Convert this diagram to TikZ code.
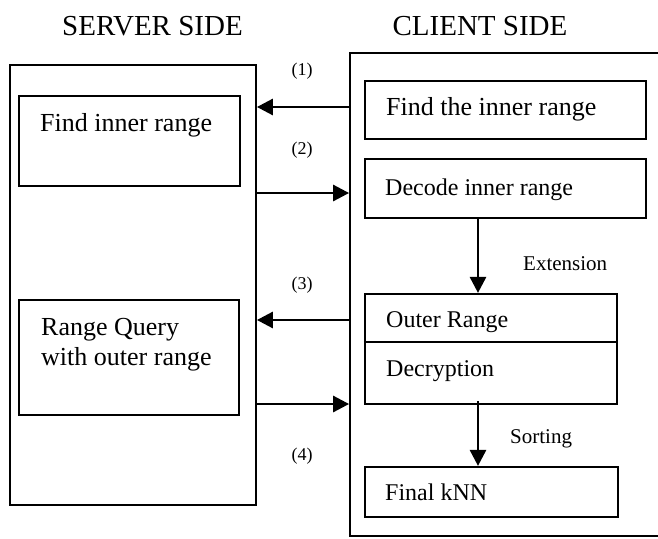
\documentclass[tikz,border=0pt]{standalone}
\usepackage{fontspec}
\setmainfont{Liberation Serif}
\usetikzlibrary{arrows.meta}
\begin{document}
\begin{tikzpicture}[x=1pt,y=-1pt,
  frame/.style={draw,line width=1.8pt,rectangle,inner sep=0pt},
  inbox/.style={draw,line width=2.2pt,rectangle,inner sep=0pt},
  arr/.style={line width=2.8pt,-{Triangle[length=16pt,width=16pt]}},
  lbl/.style={inner sep=0pt,anchor=base west},
  big/.style={font=\fontsize{26}{30}\selectfont},
  mid/.style={font=\fontsize{24}{28}\selectfont},
  small/.style={inner sep=0pt,anchor=base west,font=\fontsize{21}{24}\selectfont},
  num/.style={inner sep=0pt,anchor=base,font=\fontsize{18}{21}\selectfont},
  title/.style={inner sep=0pt,anchor=base,font=\fontsize{29}{33}\selectfont}]
\useasboundingbox (0,0) rectangle (658,538);
% titles
\node[title] (ts) at (152.5,35) {SERVER SIDE};
\node[title] (tc) at (480,35) {CLIENT SIDE};
% outer frames
\node[frame,minimum width=246pt,minimum height=440pt] (server) at (133,285) {};
\node[frame,minimum width=400pt,minimum height=483pt] (client) at (550,294.5) {};
% server boxes
\node[inbox,minimum width=221pt,minimum height=90pt] (s1) at (129.5,141) {};
\node[inbox,minimum width=220pt,minimum height=115pt] (s2) at (129,357.5) {};
% client boxes
\node[inbox,minimum width=281pt,minimum height=58pt] (c1) at (505.5,110) {};
\node[inbox,minimum width=281pt,minimum height=59pt] (c2) at (505.5,188.5) {};
\node[inbox,minimum width=252pt,minimum height=110pt] (c3) at (491,349) {};
\coordinate (d3) at (365,342);
\draw[line width=2.2pt] (d3 -| c3.west) -- (d3 -| c3.east);
\node[inbox,minimum width=253pt,minimum height=50pt] (c4) at (491.5,492) {};
% texts
\node[lbl,big] (t1) at (40,131) {Find inner range};
\node[lbl,big] (t2) at (41,335) {Range Query};
\node[lbl,big] (t3) at (41,365) {with outer range};
\node[lbl,big] (t4) at (386,115) {Find the inner range};
\node[lbl,mid] (t5) at (385,195) {Decode inner range};
\node[lbl,mid] (t6) at (386,327) {Outer Range};
\node[lbl,mid] (t7) at (386,376) {Decryption};
\node[lbl,mid] (t8) at (385,500) {Final kNN};
% arrows between sides
\coordinate (y1) at (0,107);
\coordinate (y2) at (0,193);
\coordinate (y3) at (0,320);
\coordinate (y4) at (0,404);
\draw[arr] (client.west |- y1) -- (server.east |- y1);
\draw[arr] (server.east |- y2) -- (client.west |- y2);
\draw[arr] (client.west |- y3) -- (server.east |- y3);
\draw[arr] (server.east |- y4) -- (client.west |- y4);
\node[num] (n1) at (302,75) {(1)};
\node[num] (n2) at (302,154) {(2)};
\node[num] (n3) at (302,289) {(3)};
\node[num] (n4) at (302,460) {(4)};
% vertical arrows
\coordinate (vx) at (478,0);
\draw[arr] (vx |- c2.south) -- (vx |- c3.north);
\draw[arr] ([yshift=4pt]vx |- c3.south) -- (vx |- c4.north);
\node[small] (ext) at (523,270) {Extension};
\node[small] (srt) at (510,443) {Sorting};
\end{tikzpicture}
\end{document}
